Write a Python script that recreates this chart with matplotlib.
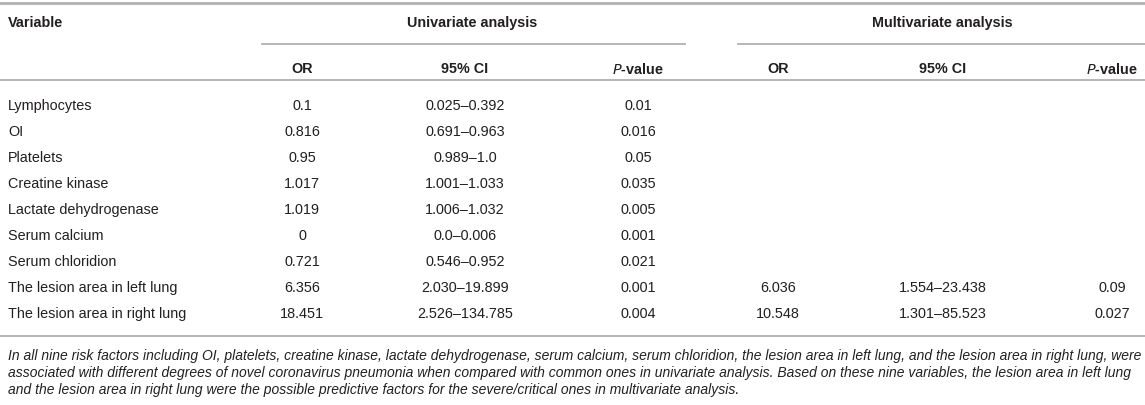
import matplotlib
matplotlib.use('Agg')
import matplotlib.pyplot as plt

plt.rcParams['font.family'] = ['Liberation Sans', 'DejaVu Sans']
plt.rcParams['mathtext.fontset'] = 'custom'
plt.rcParams['mathtext.bfit'] = 'Liberation Sans:bold:italic'

variables = ['Lymphocytes', 'OI', 'Platelets', 'Creatine kinase', 'Lactate dehydrogenase',
             'Serum calcium', 'Serum chloridion', 'The lesion area in left lung',
             'The lesion area in right lung']
uni_or = ['0.1', '0.816', '0.95', '1.017', '1.019', '0', '0.721', '6.356', '18.451']
uni_ci = ['0.025–0.392', '0.691–0.963', '0.989–1.0', '1.001–1.033', '1.006–1.032',
          '0.0–0.006', '0.546–0.952', '2.030–19.899', '2.526–134.785']
uni_p = ['0.01', '0.016', '0.05', '0.035', '0.005', '0.001', '0.021', '0.001', '0.004']
multi_or = ['', '', '', '', '', '', '', '6.036', '10.548']
multi_ci = ['', '', '', '', '', '', '', '1.554–23.438', '1.301–85.523']
multi_p = ['', '', '', '', '', '', '', '0.09', '0.027']

caption = ["In all nine risk factors including OI, platelets, creatine kinase, lactate dehydrogenase, serum calcium, serum chloridion, the lesion area in left lung, and the lesion area in right lung, were",
           "associated with different degrees of novel coronavirus pneumonia when compared with common ones in univariate analysis. Based on these nine variables, the lesion area in left lung",
           "and the lesion area in right lung were the possible predictive factors for the severe/critical ones in multivariate analysis."]

W, H = 1145, 406
fig = plt.figure(figsize=(W / 100, H / 100), dpi=100)
ax = fig.add_axes([0, 0, 1, 1])
ax.set_xlim(0, W)
ax.set_ylim(H, 0)
ax.axis('off')

txt = '#231f20'
line_c = '#b0b0b0'
fs = 10.4

# rules
ax.plot([0, W], [3.5, 3.5], color=line_c, lw=2)
ax.plot([262, 685], [45, 45], color=line_c, lw=1.3)
ax.plot([738, W], [45, 45], color=line_c, lw=1.3)
ax.plot([0, W], [81, 81], color=line_c, lw=1.3)
ax.plot([0, W], [337, 337], color=line_c, lw=1.3)

# headers
ax.text(8, 23, 'Variable', ha='left', va='center', fontsize=fs, fontweight='bold', color=txt)
ax.text(472, 23, 'Univariate analysis', ha='center', va='center', fontsize=fs, fontweight='bold', color=txt)
ax.text(942, 23, 'Multivariate analysis', ha='center', va='center', fontsize=fs, fontweight='bold', color=txt)

cols = [302, 465, 638, 778, 943, 1112]
subheads = ['OR', '95% CI', r'$\mathbf{\mathit{P}}$-value', 'OR', '95% CI', r'$\mathbf{\mathit{P}}$-value']
for x, s in zip(cols, subheads):
    ax.text(x, 69, s, ha='center', va='center', fontsize=fs, fontweight='bold', color=txt)

y0, dy = 106, 26
for i, v in enumerate(variables):
    y = y0 + i * dy
    ax.text(8, y, v, ha='left', va='center', fontsize=fs, color=txt)
    for x, col in zip(cols, [uni_or, uni_ci, uni_p, multi_or, multi_ci, multi_p]):
        if col[i]:
            ax.text(x, y, col[i], ha='center', va='center', fontsize=fs, color=txt)

for k, line in enumerate(caption):
    ax.text(8, 356 + k * 17, line, ha='left', va='center', fontsize=10.0, style='italic', color=txt)

fig.savefig('out.png', dpi=100)
